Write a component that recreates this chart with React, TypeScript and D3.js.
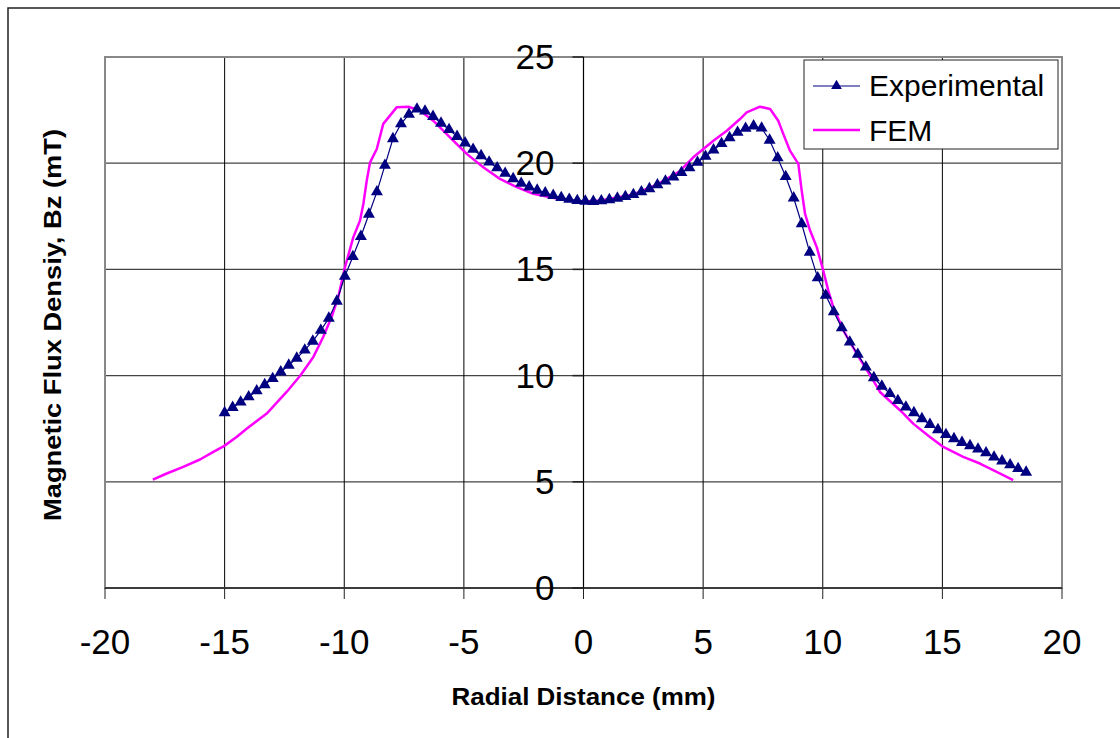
import React from "react";
import * as d3 from "d3";

const xTicks = [-20, -15, -10, -5, 0, 5, 10, 15, 20];
const yTicks = [0, 5, 10, 15, 20, 25];

const expX = [
  -15.0, -14.665, -14.33, -13.995, -13.66, -13.325, -12.99, -12.655, -12.32, -11.985,
  -11.65, -11.315, -10.98, -10.645, -10.31, -9.975, -9.64, -9.305, -8.97, -8.635,
  -8.3, -7.965, -7.63, -7.295, -6.96, -6.625, -6.29, -5.955, -5.62, -5.285,
  -4.95, -4.615, -4.28, -3.945, -3.61, -3.275, -2.94, -2.605, -2.27, -1.935,
  -1.6, -1.265, -0.93, -0.595, -0.26, 0.075, 0.41, 0.745, 1.08, 1.415,
  1.75, 2.085, 2.42, 2.755, 3.09, 3.425, 3.76, 4.095, 4.43, 4.765,
  5.1, 5.435, 5.77, 6.105, 6.44, 6.775, 7.11, 7.445, 7.78, 8.115,
  8.45, 8.785, 9.12, 9.455, 9.79, 10.125, 10.46, 10.795, 11.13, 11.465,
  11.8, 12.135, 12.47, 12.805, 13.14, 13.475, 13.81, 14.145, 14.48, 14.815,
  15.15, 15.485, 15.82, 16.155, 16.49, 16.825, 17.16, 17.495, 17.83, 18.165,
  18.5,
];
const expY = [
  8.25, 8.5, 8.75, 9.0, 9.28, 9.57, 9.86, 10.17, 10.49, 10.82,
  11.2, 11.62, 12.13, 12.7, 13.5, 14.68, 15.6, 16.55, 17.6, 18.65,
  19.9, 21.15, 21.85, 22.3, 22.55, 22.45, 22.2, 21.88, 21.58, 21.26,
  20.95, 20.65, 20.35, 20.05, 19.78, 19.52, 19.27, 19.05, 18.88, 18.73,
  18.6, 18.48, 18.38, 18.3, 18.24, 18.21, 18.2, 18.23, 18.28, 18.35,
  18.43, 18.52, 18.65, 18.8, 18.98, 19.16, 19.35, 19.56, 19.78, 20.04,
  20.32, 20.62, 20.92, 21.2, 21.45, 21.64, 21.75, 21.65, 21.08, 20.25,
  19.37, 18.36, 17.15, 15.8, 14.6, 13.78, 13.0, 12.25, 11.58, 11.0,
  10.4, 9.9, 9.5, 9.15, 8.82, 8.52, 8.25, 7.97, 7.7, 7.45,
  7.22, 7.03, 6.85, 6.7, 6.54, 6.36, 6.16, 5.98, 5.8, 5.62,
  5.45,
];

const femX = [
  -18.0, -17.42, -16.73, -16.03, -15.47, -15.03, -14.5, -14.08, -13.24, -12.41,
  -12.0, -11.85, -11.29, -10.88, -10.53, -10.25, -9.97, -9.62, -9.34, -9.2,
  -9.06, -8.92, -8.64, -8.37, -7.81, -7.32, -6.83, -6.28, -5.58, -4.88,
  -4.19, -3.49, -2.79, -2.1, -0.7, 0.0, 0.7, 2.0, 3.0, 4.0,
  4.59, 5.43, 5.99, 6.54, 6.82, 7.38, 7.8, 8.14, 8.35, 8.63,
  8.98, 9.12, 9.26, 9.47, 9.75, 10.02, 10.23, 10.44, 10.86, 11.42,
  12.11, 12.39, 13.23, 13.78, 14.48, 15.04, 15.87, 16.57, 17.27, 17.96,
];
const femY = [
  5.1, 5.39, 5.7, 6.05, 6.41, 6.68, 7.11, 7.5, 8.21, 9.23,
  9.78, 9.98, 10.88, 11.82, 12.76, 13.7, 15.1, 16.52, 17.3, 18.09,
  19.18, 20.04, 20.67, 21.85, 22.63, 22.66, 22.47, 22.0, 21.22, 20.44,
  19.81, 19.26, 18.87, 18.56, 18.24, 18.2, 18.24, 18.5, 18.95, 19.6,
  20.28, 21.06, 21.53, 22.08, 22.39, 22.66, 22.55, 22.0, 21.38, 20.59,
  19.97, 18.71, 17.62, 16.83, 16.05, 14.95, 14.01, 13.23, 12.13, 11.03,
  9.78, 9.23, 8.37, 7.74, 7.11, 6.64, 6.17, 5.86, 5.47, 5.08,
];

const seriesNames = ["Experimental", "FEM"];
const xTitle = "Radial Distance (mm)";
const yTitle = "Magnetic Flux Densiy, Bz  (mT)";

const W = 1120;
const H = 738;
const L = 105, R = 1062, T = 57, B = 588;
const FONT = "'Liberation Sans', Arial, sans-serif";
const NAVY = "#000080";
const MAG = "#FF00FF";

export default function App() {
  const x = d3.scaleLinear().domain([-20, 20]).range([L, R]);
  const y = d3.scaleLinear().domain([0, 25]).range([B, T]);

  const expPts = expX.map((v, i) => [v, expY[i]] as [number, number]);
  const femPts = femX.map((v, i) => [v, femY[i]] as [number, number]);

  const line = d3.line<[number, number]>().x((d) => x(d[0])).y((d) => y(d[1]));
  const tri = d3.symbol().type(d3.symbolTriangle).size(62)();
  const triLegend = d3.symbol().type(d3.symbolTriangle).size(50)();

  const x0 = x(0);
  const y0 = y(0);

  return (
    <svg
      width={W}
      height={H}
      style={{ position: "absolute", left: 0, top: 0, background: "#fff" }}
      fontFamily={FONT}
    >
      <rect x={0} y={0} width={W} height={H} fill="#fff" />
      <rect x={8} y={8} width={W + 20} height={H + 20} fill="none" stroke="#222" strokeWidth={1.5} />

      {/* gridlines */}
      {yTicks.filter((t) => t > 0 && t < 25).map((t) => (
        <line key={"gy" + t} x1={L} x2={R} y1={y(t)} y2={y(t)} stroke="#444" strokeWidth={1.3} />
      ))}
      {xTicks.filter((t) => t > -20 && t < 20 && t !== 0).map((t) => (
        <line key={"gx" + t} x1={x(t)} x2={x(t)} y1={T} y2={B} stroke="#000" strokeWidth={1} />
      ))}
      {/* plot border */}
      <rect x={L} y={T} width={R - L} height={B - T} fill="none" stroke="#888" strokeWidth={2} />

      {/* axes */}
      <line x1={x0} x2={x0} y1={T} y2={B} stroke="#000" strokeWidth={1.2} />
      <line x1={L} x2={R} y1={y0} y2={y0} stroke="#222" strokeWidth={1.6} />
      {yTicks.map((t) => (
        <line key={"yt" + t} x1={x0 - 11} x2={x0} y1={y(t)} y2={y(t)} stroke="#222" strokeWidth={1.5} />
      ))}
      {xTicks.map((t) => (
        <line key={"xt" + t} x1={x(t)} x2={x(t)} y1={y0} y2={y0 + 11} stroke="#222" strokeWidth={1} />
      ))}

      {/* tick labels */}
      {yTicks.map((t) => (
        <text key={"yl" + t} x={x0 - 29} y={y(t) + 12} textAnchor="end" fontSize={35} fill="#000">
          {t}
        </text>
      ))}
      {xTicks.map((t) => (
        <text key={"xl" + t} x={x(t)} y={654} textAnchor="middle" fontSize={35} fill="#000">
          {t}
        </text>
      ))}

      {/* axis titles */}
      <text
        x={x0}
        y={705}
        textAnchor="middle"
        fontSize={23}
        fontWeight="bold"
        fill="#000"
        textLength={264}
        lengthAdjust="spacingAndGlyphs"
      >
        {xTitle}
      </text>
      <text
        transform={`translate(61, 325) rotate(-90)`}
        textAnchor="middle"
        fontSize={23}
        fontWeight="bold"
        fill="#000"
        textLength={392}
        lengthAdjust="spacingAndGlyphs"
      >
        {yTitle}
      </text>

      {/* FEM */}
      <path d={line(femPts) || ""} fill="none" stroke={MAG} strokeWidth={2.5} strokeLinejoin="round" />

      {/* Experimental */}
      <path d={line(expPts) || ""} fill="none" stroke={NAVY} strokeWidth={1.2} />
      {expPts.map((d, i) => (
        <path key={"m" + i} d={tri || ""} transform={`translate(${x(d[0])},${y(d[1])})`} fill={NAVY} />
      ))}

      {/* legend */}
      <rect x={804} y={60} width={254} height={89} fill="#fff" stroke="#222" strokeWidth={1} />
      <line x1={813} x2={860} y1={86} y2={86} stroke={NAVY} strokeWidth={1} />
      <path d={triLegend || ""} transform="translate(836.5,86)" fill={NAVY} />
      <text x={869} y={96} fontSize={30} fill="#000">{seriesNames[0]}</text>
      <line x1={813} x2={860} y1={130} y2={130} stroke={MAG} strokeWidth={2.5} />
      <text x={869} y={141} fontSize={30} fill="#000">{seriesNames[1]}</text>
    </svg>
  );
}
